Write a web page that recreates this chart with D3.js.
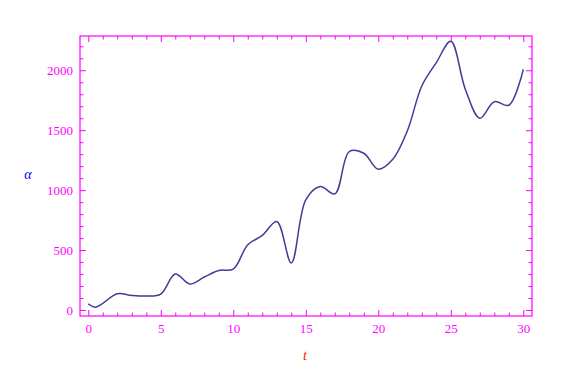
<!DOCTYPE html>
<html>
<head>
<meta charset="utf-8">
<script src="https://cdn.jsdelivr.net/npm/d3@7"></script>
<style>
  html, body { margin: 0; padding: 0; background: #fff; }
  svg { display: block; }
</style>
</head>
<body>
<svg id="chart" width="568" height="374"></svg>
<script>
const tValues = [0, 0.5, 1, 2, 3, 4, 5, 6, 7, 8, 9, 10, 11, 12, 13, 14, 15, 16, 17, 18, 19, 20, 21, 22, 23, 24, 25, 26, 27, 28, 29, 30];
const alphaValues = [52, 24, 56, 136, 122, 117, 133, 300, 217, 275, 330, 342, 544, 622, 739, 392, 919, 1030, 969, 1322, 1308, 1175, 1258, 1494, 1869, 2064, 2242, 1842, 1600, 1738, 1708, 2008];
const xMajorTicks = [0, 5, 10, 15, 20, 25, 30];
const yMajorTicks = [0, 500, 1000, 1500, 2000];
const xLabel = "t";
const yLabel = "α";

const svg = d3.select("#chart");
const margin = {left: 80, top: 36, right: 36, bottom: 58};
const W = 568 - margin.left - margin.right;
const H = 374 - margin.top - margin.bottom;
const g = svg.append("g").attr("transform", `translate(${margin.left},${margin.top})`);

const x = d3.scaleLinear().domain([-0.57, 30.6]).range([0, W]);
const y = d3.scaleLinear().domain([-50, 2286]).range([H, 0]);

const axisColor = "#ff00ff";
const font = "'Liberation Serif', 'Times New Roman', serif";

const xMinor = d3.range(0, 31, 1).filter(v => !xMajorTicks.includes(v));
const yMinor = d3.range(0, 2201, 100).filter(v => !yMajorTicks.includes(v));

function style(sel) {
  sel.select(".domain").remove();
  sel.selectAll("line").attr("stroke", axisColor).attr("stroke-width", 1);
  sel.selectAll("text").attr("fill", axisColor).style("font-family", font).style("font-size", "13px");
}

// bottom
g.append("g").attr("transform", `translate(0,${H})`)
  .call(d3.axisBottom(x).tickValues(xMajorTicks).tickSize(-6).tickPadding(8).tickFormat(d3.format("d")))
  .call(style);
g.append("g").attr("transform", `translate(0,${H})`)
  .call(d3.axisBottom(x).tickValues(xMinor).tickSize(-3.5).tickFormat(""))
  .call(style);
// top
g.append("g")
  .call(d3.axisTop(x).tickValues(xMajorTicks).tickSize(-6).tickFormat(""))
  .call(style);
g.append("g")
  .call(d3.axisTop(x).tickValues(xMinor).tickSize(-3.5).tickFormat(""))
  .call(style);
// left
g.append("g")
  .call(d3.axisLeft(y).tickValues(yMajorTicks).tickSize(-6).tickPadding(7).tickFormat(d3.format("d")))
  .call(style);
g.append("g")
  .call(d3.axisLeft(y).tickValues(yMinor).tickSize(-3.5).tickFormat(""))
  .call(style);
// right
g.append("g").attr("transform", `translate(${W},0)`)
  .call(d3.axisRight(y).tickValues(yMajorTicks).tickSize(-6).tickFormat(""))
  .call(style);
g.append("g").attr("transform", `translate(${W},0)`)
  .call(d3.axisRight(y).tickValues(yMinor).tickSize(-3.5).tickFormat(""))
  .call(style);

// frame
g.append("rect").attr("x", 0).attr("y", 0).attr("width", W).attr("height", H)
  .attr("fill", "none").attr("stroke", axisColor).attr("stroke-width", 1.2);

// line
const data = tValues.map((t, i) => ({t, v: alphaValues[i]}));
const line = d3.line().x(d => x(d.t)).y(d => y(d.v)).curve(d3.curveCatmullRom.alpha(0.5));
g.append("path").datum(data).attr("d", line)
  .attr("fill", "none").attr("stroke", "#3d3d99").attr("stroke-width", 1.5);

// axis labels
svg.append("text").attr("x", 305).attr("y", 360).attr("text-anchor", "middle")
  .style("font-family", font).style("font-style", "italic").style("font-size", "14px")
  .attr("fill", "#ff2200").text(xLabel);
svg.append("text").attr("x", 28).attr("y", 179).attr("text-anchor", "middle")
  .style("font-family", font).style("font-style", "italic").style("font-size", "14px")
  .attr("fill", "#0000ff").text(yLabel);
</script>
</body>
</html>
